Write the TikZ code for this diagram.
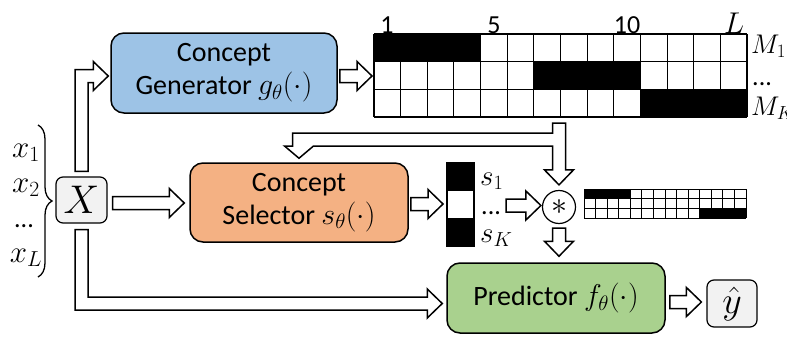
\documentclass[tikz,border=0pt]{standalone}
\usepackage{fix-cm}
\usepackage{fontspec}
\setmainfont{Carlito}
\usetikzlibrary{calc,decorations.pathreplacing}
\definecolor{genblue}{RGB}{157,195,230}
\definecolor{selorange}{RGB}{244,177,131}
\definecolor{predgreen}{RGB}{169,209,142}
\definecolor{boxgray}{RGB}{242,242,242}
\newcommand\bfnt{\fontsize{28}{33}\selectfont}
\newcommand\lfnt{\fontsize{26}{30}\selectfont}
\newcommand\fsz[1]{\fontsize{#1}{#1}\selectfont}
\DeclareMathSizes{28}{30}{21}{16}
\def\arsw{6.5pt}\def\arhw{14.5pt}\def\arhl{15pt}
% straight right-pointing block arrow
\newcommand\rarrow[2]{\draw[barrow] let \p1=(#1), \p2=(#2) in
  (\x1,\y1+\arsw) -- (\x2-\arhl,\y1+\arsw) -- (\x2-\arhl,\y1+\arhw) -- (\x2,\y1)
  -- (\x2-\arhl,\y1-\arhw) -- (\x2-\arhl,\y1-\arsw) -- (\x1,\y1-\arsw) -- cycle;}
% straight down-pointing block arrow
\newcommand\darrow[2]{\draw[barrow] let \p1=(#1), \p2=(#2) in
  (\x1-\arsw,\y1) -- (\x1-\arsw,\y2+\arhl) -- (\x1-\arhw,\y2+\arhl) -- (\x1,\y2)
  -- (\x1+\arhw,\y2+\arhl) -- (\x1+\arsw,\y2+\arhl) -- (\x1+\arsw,\y1) -- cycle;}
\begin{document}
\begin{tikzpicture}[x=1pt,y=-1pt,
  box/.style={draw, line width=1.5pt, rounded corners=13pt, align=center, font=\bfnt, inner sep=0pt},
  smallbox/.style={draw, line width=1.2pt, rounded corners=7pt, fill=boxgray, inner sep=0pt},
  barrow/.style={draw, line width=1.5pt, fill=white, line join=miter},
  lab/.style={font=\lfnt, inner sep=0pt},
  gridline/.style={line width=1.1pt},
  finegrid/.style={line width=0.8pt},
]
\useasboundingbox (0,0) rectangle (787,340);

% main boxes
\node[box, fill=genblue, minimum width=226pt, minimum height=80pt] (Gen) at (224,73) {Concept\\Generator $g_\theta(\cdot)$};
\node[box, fill=selorange, minimum width=218pt, minimum height=79pt] (Sel) at (299,202.5) {Concept\\Selector $s_\theta(\cdot)$};
\node[box, fill=predgreen, minimum width=218pt, minimum height=70pt] (Pred) at (556,298) {Predictor $f_\theta(\cdot)$};
\node[smallbox, minimum width=51pt, minimum height=46pt, font=\fsz{40}] (X) at (81.5,200) {$X$};
\node[smallbox, minimum width=50pt, minimum height=47pt, font=\fsz{38}] (yh) at (732,303.5) {$\hat{y}$};
\node[draw, circle, line width=1.2pt, minimum size=33pt, inner sep=0pt, font=\fsz{32}] (star) at (559,207) {$\ast$};

% inputs x_1..x_L with brace
\node[lab, font=\fsz{31}, anchor=base] (x1) at (26,157) {$x_1$};
\node[lab, font=\fsz{31}, anchor=base] (x2) at (26,192) {$x_2$};
\node[lab, anchor=base] (xd) at (24,227) {...};
\node[lab, font=\fsz{31}, anchor=base] (xL) at (26,262) {$x_L$};
\draw[line width=1.3pt, decorate, decoration={brace, amplitude=14pt}] (38,125) -- (38,277);

% big mask matrix
\node[minimum width=373pt, minimum height=83pt, inner sep=0pt, outer sep=0pt] (M) at (560.5,75.5) {};
\foreach \r/\a/\b in {0/0/4,1/6/10,2/10/14}
  \fill (374+\a*26.643, 34+\r*27.667) rectangle (374+\b*26.643, 34+\r*27.667+27.667);
\foreach \i in {0,...,14} \draw[gridline] (374+\i*26.643,34) -- (374+\i*26.643,117);
\foreach \j in {0,...,3} \draw[gridline] (374,34+\j*27.667) -- (747,34+\j*27.667);
\node[lab, anchor=base] (n1) at (387,33) {1};
\node[lab, anchor=base] (n5) at (494,33) {5};
\node[lab, anchor=base] (n10) at (627,33) {10};
\node[lab, font=\fsz{28}, anchor=base] (nL) at (734,33) {$L$};
\node[lab, font=\fsz{27}, anchor=base west] (m1) at (751,53) {$M_1$};
\node[lab, anchor=base west] (md) at (752,85) {...};
\node[lab, font=\fsz{27}, anchor=base west] (mK) at (751,115) {$M_K$};

% selection vector
\node[minimum width=27pt, minimum height=83pt, inner sep=0pt, outer sep=0pt] (S) at (460.5,204.5) {};
\fill (447,163) rectangle (474,190.667);
\fill (447,218.333) rectangle (474,246);
\draw[gridline] (447,163) rectangle (474,246);
\draw[gridline] (447,190.667) -- (474,190.667) (447,218.333) -- (474,218.333);
\node[lab, font=\fsz{29}, anchor=base west] (s1) at (480,185) {$s_1$};
\node[lab, anchor=base west] (sd) at (481,214) {...};
\node[lab, font=\fsz{29}, anchor=base west] (sK) at (480,242) {$s_K$};

% small masked matrix
\node[minimum width=162pt, minimum height=29pt, inner sep=0pt, outer sep=0pt] (Ms) at (665,203.5) {};
\foreach \r/\a/\b in {0/0/4,2/10/14}
  \fill (584+\a*11.571, 189+\r*9.667) rectangle (584+\b*11.571, 189+\r*9.667+9.667);
\foreach \i in {0,...,14} \draw[finegrid] (584+\i*11.571,189) -- (584+\i*11.571,218);
\foreach \j in {0,...,3} \draw[finegrid] (584,189+\j*9.667) -- (746,189+\j*9.667);

% connectors (block arrows)
\coordinate (g0) at ($(Gen.east)+(2,3)$);
\coordinate (g1) at ($(M.west)+(-2,0)$);
\rarrow{g0}{g1}

\coordinate (xa0) at ($(X.north)+(0,-5)$);
\coordinate (xa1) at ($(Gen.west)+(-2,3)$);
\draw[barrow] let \p1=(xa0), \p2=(xa1) in
  (\x1-\arsw,\y1) -- (\x1-\arsw,\y2+\arsw) -- (\x2-\arhl,\y2+\arsw) -- (\x2-\arhl,\y2+\arhw)
  -- (\x2,\y2) -- (\x2-\arhl,\y2-\arhw) -- (\x2-\arhl,\y2-\arsw) -- (\x1+\arsw,\y2-\arsw)
  -- (\x1+\arsw,\y1) -- cycle;

\coordinate (xs0) at ($(X.east)+(5,3)$);
\coordinate (xs1) at ($(Sel.west)+(-5,0)$);
\rarrow{xs0}{xs1}

\coordinate (xp0) at ($(X.south)+(0,6)$);
\coordinate (xp1) at ($(Pred.west)+(-4,5.5)$);
\draw[barrow] let \p1=(xp0), \p2=(xp1) in
  (\x1-\arsw,\y1) -- (\x1-\arsw,\y2-\arsw) -- (\x2-\arhl,\y2-\arsw) -- (\x2-\arhl,\y2-\arhw)
  -- (\x2,\y2) -- (\x2-\arhl,\y2+\arhw) -- (\x2-\arhl,\y2+\arsw) -- (\x1+\arsw,\y2+\arsw)
  -- (\x1+\arsw,\y1) -- cycle;

\coordinate (mb) at ($(M.south -| star.north)+(0,6)$);
\coordinate (st) at ($(star.north)+(0,-5)$);
\coordinate (se) at ($(Sel.north)+(0,-4)$);
\draw[barrow] let \p1=(mb), \p2=(st), \p3=(se) in
  (\x1-\arsw,\y1) -- (\x1-\arsw,\y1-10pt) -- (\x3-\arsw,\y1-10pt) -- (\x3-\arsw,\y1-23pt)
  -- (\x3-\arhw,\y1-23pt) -- (\x3,\y3) -- (\x3+\arhw,\y1-23pt) -- (\x1-\arsw,\y1-23pt)
  -- (\x1-\arsw,\y2+\arhl) -- (\x1-\arhw,\y2+\arhl) -- (\x1,\y2) -- (\x1+\arhw,\y2+\arhl)
  -- (\x1+\arsw,\y2+\arhl) -- (\x1+\arsw,\y1) -- cycle;

\coordinate (ss0) at ($(Sel.east)+(2,1.5)$);
\coordinate (ss1) at ($(S.west)+(-4,0)$);
\rarrow{ss0}{ss1}

\coordinate (sv0) at ($(S.east)+(32,1)$);
\coordinate (sv1) at ($(star.west)+(-1,0)$);
\rarrow{sv0}{sv1}

\coordinate (sp0) at ($(star.south)+(0,4)$);
\coordinate (sp1) at ($(Pred.north)+(0,-6)$);
\darrow{sp0}{sp1}

\coordinate (py0) at ($(Pred.east)+(4,4)$);
\coordinate (py1) at ($(yh.west)+(-5,0)$);
\rarrow{py0}{py1}
\end{tikzpicture}
\end{document}
